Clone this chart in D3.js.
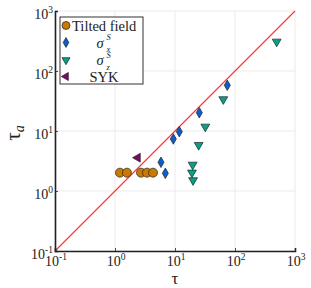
<!DOCTYPE html>
<html>
<head>
<meta charset="utf-8">
<script src="https://cdn.jsdelivr.net/npm/d3@7"></script>
<style>
  body { margin: 0; background: #fff; }
  svg text { font-family: "Liberation Serif", "DejaVu Serif", serif; fill: #222; }
</style>
</head>
<body>
<div class="container"></div>
<script>
const decades = [0.1, 1, 10, 100, 1000];
const decadeExps = [-1, 0, 1, 2, 3];

const tiltedTau = [1.21, 1.58, 2.71, 3.41, 4.3];
const tiltedTauA = [2.02, 2.02, 2.02, 2.02, 2.02];

const sigmaXTau = [5.84, 6.9, 9.37, 11.8, 25.4, 74.4];
const sigmaXTauA = [3.01, 1.97, 7.36, 9.73, 20.2, 57.8];

const sigmaZTau = [24.8, 19.7, 19.2, 20, 32, 63.8, 495];
const sigmaZTauA = [5.84, 2.74, 2.02, 1.51, 11.8, 33.8, 308];

const sykTau = [2.39];
const sykTauA = [3.59];

const width = 311;
const height = 288;
const margin = {left: 55, right: 16, top: 11, bottom: 37};

const x = d3.scaleLog().domain([0.1, 1000]).range([margin.left, width - margin.right]);
const y = d3.scaleLog().domain([0.1, 1000]).range([height - margin.bottom, margin.top]);

const svg = d3.select('.container')
  .append('svg')
  .attr('width', width)
  .attr('height', height);

// grid lines at each decade
svg.append('g').selectAll('line').data(decades).join('line')
  .attr('x1', d => x(d)).attr('x2', d => x(d))
  .attr('y1', y(0.1)).attr('y2', y(1000))
  .style('stroke', '#e6e6e6').style('stroke-width', 0.8);
svg.append('g').selectAll('line').data(decades).join('line')
  .attr('y1', d => y(d)).attr('y2', d => y(d))
  .attr('x1', x(0.1)).attr('x2', x(1000))
  .style('stroke', '#e6e6e6').style('stroke-width', 0.8);

// diagonal tau_a = tau
svg.append('line')
  .attr('x1', x(0.1)).attr('y1', y(0.1))
  .attr('x2', x(1000)).attr('y2', y(1000))
  .style('stroke', '#ff3030').style('stroke-width', 1.1);

// axes, ticks pointing inward
const xAxis = svg.append('g')
  .attr('transform', `translate(0,${y(0.1)})`)
  .call(d3.axisBottom(x).tickValues(decades).tickSize(-3).tickFormat(''));
const yAxis = svg.append('g')
  .attr('transform', `translate(${x(0.1)},0)`)
  .call(d3.axisLeft(y).tickValues(decades).tickSize(-3).tickFormat(''));
[xAxis, yAxis].forEach(a => {
  a.select('.domain').attr('stroke', '#222').attr('stroke-width', 1.6);
  a.selectAll('.tick line').attr('stroke', '#222').attr('stroke-width', 0.8);
});

// tick labels 10^n
const addPow = (sel, e) => {
  sel.append('tspan').text('10');
  sel.append('tspan').attr('dy', -6).style('font-size', '9.5px').text(e);
};
decades.forEach((d, i) => {
  const tx = svg.append('text')
    .attr('x', x(d) + 1).attr('y', y(0.1) + 15)
    .attr('text-anchor', 'middle')
    .style('font-size', '14px');
  addPow(tx, decadeExps[i]);
  const ty = svg.append('text')
    .attr('x', x(0.1) - 2).attr('y', y(d) + 8)
    .attr('text-anchor', 'end')
    .style('font-size', '14px');
  addPow(ty, decadeExps[i]);
});

// axis titles
svg.append('text')
  .attr('x', x(10)).attr('y', 284)
  .attr('text-anchor', 'middle')
  .style('font-size', '17px')
  .text('τ');
const yl = svg.append('text')
  .attr('transform', `translate(20,${y(10) + 2}) rotate(-90)`)
  .attr('text-anchor', 'middle')
  .style('font-size', '21px');
yl.append('tspan').text('τ');
yl.append('tspan').attr('dy', 4).style('font-size', '14px').style('font-style', 'italic').text('a');

const series = [
  {name: 'tilted', xs: tiltedTau, ys: tiltedTauA, sym: d3.symbolCircle, size: 64, rot: 0, color: '#c97a00'},
  {name: 'sx', xs: sigmaXTau, ys: sigmaXTauA, sym: d3.symbolDiamond, size: 32, rot: 0, color: '#0a5fd0'},
  {name: 'sz', xs: sigmaZTau, ys: sigmaZTauA, sym: d3.symbolTriangle, size: 34, rot: 180, color: '#0aa088'},
  {name: 'syk', xs: sykTau, ys: sykTauA, sym: d3.symbolTriangle, size: 34, rot: -90, color: '#7a0a66'}
];

series.forEach(s => {
  const pts = s.xs.map((v, i) => [v, s.ys[i]]);
  svg.append('g').selectAll('path').data(pts).join('path')
    .attr('d', d3.symbol().type(s.sym).size(s.size))
    .attr('transform', d => `translate(${x(d[0])},${y(d[1])}) rotate(${s.rot})`)
    .attr('fill', s.color)
    .attr('stroke', '#222').attr('stroke-width', 0.7);
});

// legend
const lg = svg.append('g');
lg.append('rect')
  .attr('x', 60).attr('y', 17).attr('width', 83).attr('height', 67)
  .attr('fill', '#fff').attr('stroke', '#333').attr('stroke-width', 1);
const rows = [25.5, 42.5, 60, 76.5];
series.forEach((s, i) => {
  lg.append('path')
    .attr('d', d3.symbol().type(s.sym).size(s.name === 'tilted' ? 50 : 28))
    .attr('transform', `translate(66,${rows[i]}) rotate(${s.rot})`)
    .attr('fill', s.color)
    .attr('stroke', '#222').attr('stroke-width', 0.7);
});
lg.append('text').attr('x', 72).attr('y', rows[0] + 5)
  .style('font-size', '14.5px').text('Tilted field');
['x', 'z'].forEach((sub, k) => {
  const r = rows[k + 1];
  lg.append('text').attr('x', 96.5).attr('y', r + 5)
    .style('font-size', '14.5px').style('font-style', 'italic').text('σ');
  lg.append('text').attr('x', 106.5).attr('y', r - 2.5)
    .style('font-size', '8.5px').style('font-style', 'italic').text('S');
  lg.append('text').attr('x', 106.5).attr('y', r + 9.5)
    .style('font-size', '8.5px').style('font-style', 'italic').text(sub);
});
lg.append('text').attr('x', 104).attr('y', rows[3] + 5)
  .attr('text-anchor', 'middle')
  .style('font-size', '14.5px').text('SYK');
</script>
</body>
</html>
